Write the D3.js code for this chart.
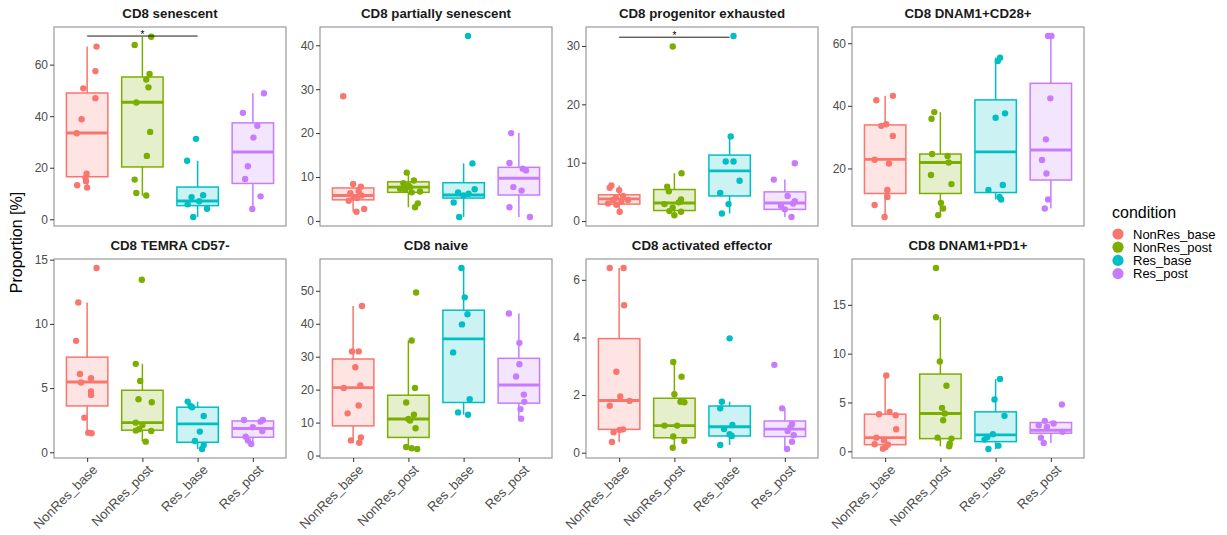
<!DOCTYPE html>
<html><head><meta charset="utf-8">
<script src="https://cdn.jsdelivr.net/npm/d3@7"></script>
<style>
body{margin:0;background:#fff;}
svg text{font-family:"Liberation Sans",Arial,sans-serif;}
</style></head>
<body><svg id="chart" width="1227" height="535"></svg>
<script>
// ---------------- DATA ----------------
const conditions = ["NonRes_base","NonRes_post","Res_base","Res_post"];
const colors = ["#F8766D","#7CAE00","#00BFC4","#C77CFF"];
const panelTitles = ["CD8 senescent","CD8 partially senescent","CD8 progenitor exhausted","CD8 DNAM1+CD28+",
  "CD8 TEMRA CD57-","CD8 naive","CD8 activated effector","CD8 DNAM1+PD1+"];
const yTickValues = [[0,20,40,60],[0,10,20,30,40],[0,10,20,30],[20,40,60],
  [0,5,10,15],[0,10,20,30,40,50],[0,2,4,6],[0,5,10,15]];

// values per condition
const senescentVals = [
  [67.0,57.5,50.8,47.0,38.8,33.4,17.7,16.0,14.8,13.2,12.3],
  [70.8,67.6,56.4,54.2,51.2,45.3,33.9,24.6,15.4,10.2,9.2],
  [31.2,22.7,9.3,8.6,7.0,5.8,4.1,0.9],
  [48.9,41.3,36.3,31.7,20.6,15.6,8.9,4.0]];
const senescentJitter = [
  [0.17,0.15,-0.07,0.15,-0.10,-0.19,-0.01,-0.03,-0.02,-0.18,0.0],
  [0.16,-0.14,0.13,0.07,0.11,-0.11,0.14,0.08,-0.14,-0.11,0.07],
  [-0.03,-0.19,0.10,-0.11,0.03,-0.18,0.17,-0.08],
  [0.20,-0.18,0.08,0.01,-0.09,-0.14,0.14,-0.01]];
const senescentBox = [[12.3,16.5,33.5,49.0,67.0],[9.2,20.3,45.4,55.2,70.8],[0.9,5.3,7.1,12.5,22.7],[4.0,13.9,26.1,37.4,48.9]];

const partialVals = [
  [28.4,8.4,7.8,6.8,6.3,5.8,5.4,5.2,4.6,2.7,2.1],
  [11.0,9.2,8.6,8.1,7.7,7.3,7.1,6.7,6.5,4.0,3.1],
  [42.1,13.1,7.2,6.5,6.2,5.8,4.2,0.9],
  [20.0,13.2,11.9,11.5,7.7,6.9,3.1,0.9]];
const partialJitter = [
  [-0.18,0.0,0.14,0.10,-0.05,0.15,0.01,0.07,-0.08,0.20,0.06],
  [-0.03,0.10,-0.09,0.0,0.03,-0.15,-0.06,0.21,0.06,0.17,0.12],
  [0.08,0.16,0.20,-0.10,0.09,0.0,-0.18,-0.08],
  [-0.14,-0.17,0.07,0.13,-0.10,0.05,-0.17,0.20]];
const partialBox = [[2.1,4.8,5.8,7.5,8.4],[3.1,6.5,7.7,8.9,11.0],[0.9,5.2,5.9,8.7,13.1],[0.9,5.9,9.7,12.2,20.0]];

const progenitorVals = [
  [6.1,5.7,5.3,4.3,4.0,3.6,3.6,3.3,3.0,2.8,1.6],
  [29.9,8.2,5.9,5.1,3.7,3.2,2.9,2.3,1.7,1.6,1.0],
  [31.7,14.5,10.2,10.2,6.9,4.8,2.9,1.3],
  [9.9,7.1,4.3,3.4,3.0,2.6,2.0,0.7]];
const progenitorJitter = [
  [-0.14,-0.17,0.0,0.07,-0.06,0.16,-0.11,0.04,-0.20,-0.05,0.01],
  [-0.03,0.13,-0.13,-0.10,0.12,0.08,-0.18,-0.03,-0.09,0.12,0.0],
  [0.07,0.02,-0.07,0.07,0.18,-0.17,-0.02,-0.14],
  [0.18,-0.20,0.05,0.18,0.15,-0.07,0.0,0.12]];
const progenitorBox = [[1.6,2.9,3.8,4.5,6.1],[1.0,1.8,3.1,5.4,8.2],[1.3,4.3,8.6,11.3,14.5],[0.7,2.0,3.1,5.0,7.1]];

const cd28Vals = [
  [43.2,41.8,34.1,33.6,30.4,22.8,21.6,13.1,10.9,8.3,4.5],
  [38.0,35.9,24.6,24.0,21.9,17.9,15.0,9.0,7.2,5.1],
  [55.4,54.3,37.6,36.2,14.7,13.1,10.9,10.1],
  [62.3,62.3,42.4,29.3,22.7,18.4,10.1,7.2]];
const cd28Jitter = [
  [0.14,-0.16,0.02,-0.07,0.14,-0.19,0.07,0.04,0.04,-0.19,-0.01],
  [-0.11,-0.16,-0.15,0.13,0.15,-0.17,0.20,0.01,0.05,-0.04],
  [0.08,0.04,0.17,0.0,0.13,-0.13,0.07,0.10],
  [-0.05,0.01,-0.01,-0.09,-0.16,-0.08,-0.05,-0.11]];
const cd28Box = [[4.5,12.0,22.9,33.9,43.2],[5.1,12.0,21.9,24.6,38.0],[10.1,12.3,25.3,41.9,55.4],[7.2,16.3,25.9,47.2,62.3]];

const temraVals = [
  [14.35,11.67,8.68,6.1,5.77,5.43,4.73,4.47,2.7,1.53,1.48],
  [13.44,6.89,5.56,4.13,3.9,2.31,2.13,1.79,1.69,1.66,0.83],
  [3.95,3.6,3.51,2.83,1.61,0.88,0.57,0.26],
  [2.52,2.52,2.39,1.95,1.66,1.22,0.91,0.65]];
const temraJitter = [
  [0.17,-0.16,-0.20,-0.13,0.07,-0.11,0.07,0.07,-0.05,0.02,0.08],
  [-0.01,-0.12,-0.04,-0.07,0.17,-0.12,0.0,-0.06,-0.12,0.16,0.06],
  [-0.18,-0.13,-0.10,0.11,0.04,-0.05,0.11,0.08],
  [-0.16,0.18,0.14,0.0,0.17,-0.13,-0.09,-0.03]];
const temraBox = [[1.48,3.61,5.48,7.41,11.67],[0.83,1.72,2.31,4.83,6.89],[0.26,0.78,2.21,3.51,3.95],[0.65,1.17,1.85,2.44,2.52]];

const naiveVals = [
  [45.4,31.6,31.6,26.8,21.3,20.5,15.2,12.8,5.5,4.6,3.9],
  [49.5,34.9,20.5,16.1,12.4,11.1,10.6,8.3,2.6,2.2,2.0],
  [56.9,48.0,42.9,39.8,31.3,17.1,13.1,12.4],
  [43.1,34.2,27.7,24.0,18.5,16.3,14.1,11.2]];
const naiveJitter = [
  [0.16,-0.02,0.10,0.04,0.13,-0.17,0.10,-0.10,0.14,-0.04,0.11],
  [0.14,0.06,0.12,-0.04,0.10,0.0,0.03,0.13,-0.04,0.06,0.16],
  [-0.04,0.02,0.07,-0.03,-0.19,0.11,-0.10,0.08],
  [-0.18,0.01,0.01,-0.05,0.09,0.10,0.03,0.04]];
const naiveBox = [[3.9,9.0,20.6,29.3,45.4],[2.0,5.5,11.1,18.3,34.9],[12.4,16.1,35.4,44.1,56.9],[11.2,15.9,21.4,29.5,43.1]];

const activatedVals = [
  [6.41,6.41,5.12,2.81,1.95,1.8,1.63,0.81,0.79,0.71,0.37],
  [3.15,2.64,2.03,1.77,1.75,0.94,0.94,0.56,0.41,0.17],
  [3.97,1.77,1.54,0.96,0.82,0.64,0.58,0.27],
  [3.05,1.54,1.0,0.88,0.75,0.61,0.38,0.13]];
const activatedJitter = [
  [-0.17,0.08,0.09,-0.05,0.02,0.19,-0.17,0.07,0.01,-0.10,-0.13],
  [-0.02,0.13,0.0,0.11,0.18,-0.18,0.05,-0.02,0.18,-0.03],
  [0.0,-0.14,-0.17,0.05,-0.10,0.0,0.04,-0.17],
  [-0.19,-0.05,0.13,0.10,0.05,0.16,0.13,0.04]];
const activatedBox = [[0.37,0.81,1.81,3.96,6.41],[0.17,0.52,0.94,1.89,3.15],[0.27,0.58,0.9,1.62,1.77],[0.13,0.56,0.82,1.1,1.54]];

const pd1Vals = [
  [7.77,4.04,3.8,3.7,2.26,1.4,1.13,0.72,0.68,0.45,0.27],
  [18.77,13.73,9.21,6.71,4.45,3.87,3.18,1.4,1.3,0.79,0.51],
  [7.4,5.31,3.63,1.75,1.47,1.2,0.58,0.24],
  [4.79,3.12,2.84,2.67,2.5,1.99,1.4,0.86]];
const pd1Jitter = [
  [0.02,0.08,-0.11,0.19,0.20,-0.16,-0.02,-0.19,0.05,0.01,-0.04],
  [-0.08,-0.08,-0.01,0.11,0.03,0.08,0.05,-0.05,0.20,0.17,0.16],
  [0.08,-0.02,0.16,-0.05,-0.15,-0.20,0.05,-0.13],
  [0.20,-0.11,0.05,-0.22,-0.07,0.21,-0.18,-0.13]];
const pd1Box = [[0.27,0.68,1.4,3.8,7.77],[0.51,1.3,3.87,7.91,13.73],[0.24,0.99,1.68,4.04,7.4],[0.86,1.85,2.16,2.95,3.12]];

// significance brackets: panel index, from group, to group, y value, label
const sigPanel = [0, 2];
const sigFrom = [0, 0];
const sigTo = [2, 2];
const sigY = [71.1, 31.5];
const sigLabel = ["*", "*"];

const panelVals = [senescentVals, partialVals, progenitorVals, cd28Vals, temraVals, naiveVals, activatedVals, pd1Vals];
const panelJitter = [senescentJitter, partialJitter, progenitorJitter, cd28Jitter, temraJitter, naiveJitter, activatedJitter, pd1Jitter];
const panelBox = [senescentBox, partialBox, progenitorBox, cd28Box, temraBox, naiveBox, activatedBox, pd1Box];

// ---------------- LAYOUT ----------------
const svg = d3.select("#chart");
const colLeft = [54, 320, 586, 852];
const rowTop = [27, 259];
const pw = 232, ph = 199;
const tickCol = "#333333", labCol = "#4D4D4D";

panelTitles.forEach((title, p) => {
  const col = p % 4, row = Math.floor(p / 4);
  const g = svg.append("g").attr("transform", `translate(${colLeft[col]},${rowTop[row]})`);

  const x = d3.scalePoint().domain(conditions).range([0, pw]).padding(0.6);
  const step = x.step();
  const vals = panelVals[p];
  let lo = d3.min(vals.flat()), hi = d3.max(vals.flat());
  sigPanel.forEach((sp, i) => { if (sp === p) hi = Math.max(hi, sigY[i]); });
  const pad = (hi - lo) * 0.05;
  const y = d3.scaleLinear().domain([lo - pad, hi + pad]).range([ph, 0]);

  // title
  g.append("text").attr("x", pw / 2).attr("y", -9).attr("text-anchor", "middle")
    .attr("font-size", 13.3).attr("font-weight", "bold").attr("fill", "#1A1A1A").text(title);

  // boxes
  const bw = step * 0.75;
  panelBox[p].forEach((b, i) => {
    const cx = x(conditions[i]);
    const bg = g.append("g");
    bg.append("line").attr("x1", cx).attr("x2", cx).attr("y1", y(b[3])).attr("y2", y(b[4]))
      .attr("stroke", colors[i]).attr("stroke-width", 1.5);
    bg.append("line").attr("x1", cx).attr("x2", cx).attr("y1", y(b[1])).attr("y2", y(b[0]))
      .attr("stroke", colors[i]).attr("stroke-width", 1.5);
    bg.append("rect").attr("x", cx - bw / 2).attr("width", bw)
      .attr("y", y(b[3])).attr("height", y(b[1]) - y(b[3]))
      .attr("fill", colors[i]).attr("fill-opacity", 0.2)
      .attr("stroke", colors[i]).attr("stroke-width", 1.5);
    bg.append("line").attr("x1", cx - bw / 2).attr("x2", cx + bw / 2).attr("y1", y(b[2])).attr("y2", y(b[2]))
      .attr("stroke", colors[i]).attr("stroke-width", 2.9);
  });

  // points
  vals.forEach((arr, i) => {
    const cx = x(conditions[i]);
    g.append("g").selectAll("circle").data(arr).join("circle")
      .attr("cx", (d, k) => cx + panelJitter[p][i][k] * step)
      .attr("cy", d => y(d)).attr("r", 3.2).attr("fill", colors[i]);
  });

  // significance
  sigPanel.forEach((sp, i) => {
    if (sp !== p) return;
    const x1 = x(conditions[sigFrom[i]]), x2 = x(conditions[sigTo[i]]);
    g.append("line").attr("x1", x1).attr("x2", x2).attr("y1", y(sigY[i])).attr("y2", y(sigY[i]))
      .attr("stroke", "#000").attr("stroke-width", 0.9);
    g.append("text").attr("x", (x1 + x2) / 2).attr("y", y(sigY[i]) + 2).attr("text-anchor", "middle")
      .attr("font-size", 10).attr("fill", "#000").text(sigLabel[i]);
  });

  // panel border
  g.append("rect").attr("width", pw).attr("height", ph).attr("fill", "none")
    .attr("stroke", "#9A9A9A").attr("stroke-width", 1.2);

  // y axis
  const ya = g.append("g").call(d3.axisLeft(y).tickValues(yTickValues[p]).tickFormat(d3.format("~g")).tickSize(4).tickPadding(2));
  ya.select(".domain").remove();
  ya.selectAll(".tick line").attr("stroke", tickCol).attr("stroke-width", 1);
  ya.selectAll(".tick text").attr("fill", labCol).attr("font-size", 12)
    .style("font-family", "'Liberation Sans',Arial,sans-serif");

  // x axis (bottom row only)
  if (row === 1) {
    const xa = g.append("g").attr("transform", `translate(0,${ph})`)
      .call(d3.axisBottom(x).tickSize(4).tickPadding(2));
    xa.select(".domain").remove();
    xa.selectAll(".tick line").attr("stroke", tickCol).attr("stroke-width", 1);
    xa.selectAll(".tick text").attr("fill", labCol).attr("font-size", 13.2)
      .style("font-family", "'Liberation Sans',Arial,sans-serif")
      .attr("text-anchor", "end").attr("y", null)
      .attr("transform", "translate(4,6) rotate(-45)")
      .attr("dy", "0.7em");
  }
});

// y axis title
svg.append("text").attr("transform", `translate(22,${(rowTop[0] + rowTop[1] + ph) / 2}) rotate(-90)`)
  .attr("text-anchor", "middle").attr("font-size", 16).attr("fill", "#000").text("Proportion [%]");

// legend
const leg = svg.append("g").attr("transform", "translate(1112,218)");
leg.append("text").attr("x", 0).attr("y", 0).attr("font-size", 16).attr("fill", "#000").text("condition");
conditions.forEach((c, i) => {
  leg.append("circle").attr("cx", 6).attr("cy", 16 + i * 13.2).attr("r", 5.6).attr("fill", colors[i]);
  leg.append("text").attr("x", 21).attr("y", 16 + i * 13.2 + 4.6).attr("font-size", 13).attr("fill", "#000").text(c);
});
</script></body></html>
